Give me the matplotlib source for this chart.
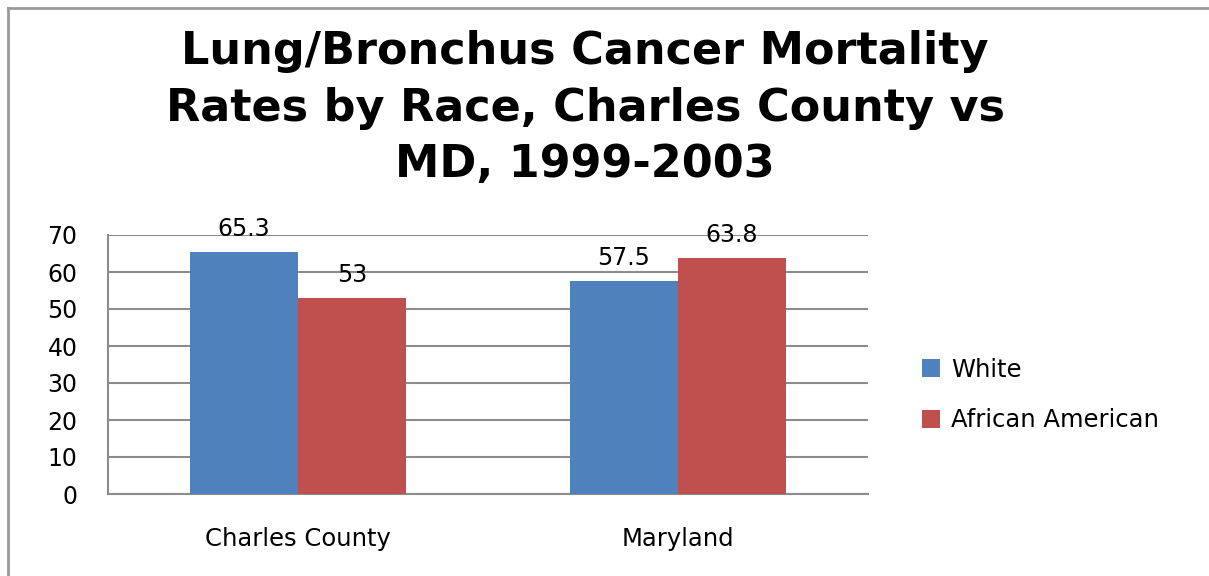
import matplotlib
matplotlib.use("Agg")
import matplotlib.pyplot as plt
from matplotlib.lines import Line2D
import numpy as np

# chart data
categories = ["Charles County", "Maryland"]
white = [65.3, 57.5]
african_american = [53, 63.8]
white_labels = ["65.3", "57.5"]
aa_labels = ["53", "63.8"]

blue = "#4F81BD"
red = "#C0504D"
grid_gray = "#8C8C8C"

fig = plt.figure(figsize=(12.09, 5.76), dpi=100)
ax = fig.add_axes([108 / 1209, 1 - 494 / 576, (868 - 108) / 1209, (494 - 235) / 576])

x = np.arange(len(categories))
w = 0.284
b1 = ax.bar(x - w / 2, white, w, color=blue, label="White", zorder=3)
b2 = ax.bar(x + w / 2, african_american, w, color=red, label="African American", zorder=3)

# value labels above the bars
for bars, labels in [(b1, white_labels), (b2, aa_labels)]:
    for rect, lab in zip(bars, labels):
        ax.annotate(lab, (rect.get_x() + rect.get_width() / 2, rect.get_height()),
                    xytext=(0, 8), textcoords="offset points",
                    ha="center", va="bottom", fontsize=17, color="black", zorder=4)

ax.set_xlim(-0.5, 1.5)
ax.set_ylim(0, 70)
ax.set_yticks(range(0, 71, 10))
ax.set_xticks(x)
ax.set_xticklabels(categories)
ax.tick_params(axis="y", length=0, pad=22, labelsize=17)
ax.tick_params(axis="x", length=0, pad=24, labelsize=17.5)
ax.yaxis.grid(True, color=grid_gray, linewidth=1.5, zorder=0)
ax.set_axisbelow(True)
for side in ["top", "right"]:
    ax.spines[side].set_visible(False)
for side in ["left", "bottom"]:
    ax.spines[side].set_color(grid_gray)
    ax.spines[side].set_linewidth(1.5)

fig.text(585 / 1209, 1 - 108 / 576,
         "Lung/Bronchus Cancer Mortality\nRates by Race, Charles County vs\nMD, 1999-2003",
         ha="center", va="center", fontsize=32, fontweight="bold", linespacing=1.4)

fig.legend(handles=[b1, b2], loc="center left", bbox_to_anchor=(900 / 1209, 1 - 395 / 576),
           frameon=False, fontsize=17.5, handlelength=0.75, handleheight=0.75,
           handletextpad=0.45, labelspacing=1.1)

# chart border (left and top edges visible)
fig.add_artist(Line2D([8 / 1209, 8 / 1209], [0, 1 - 8 / 576], color="#999999", linewidth=2))
fig.add_artist(Line2D([8 / 1209, 1], [1 - 8 / 576, 1 - 8 / 576], color="#999999", linewidth=2))

fig.savefig("out.png", dpi=100)
